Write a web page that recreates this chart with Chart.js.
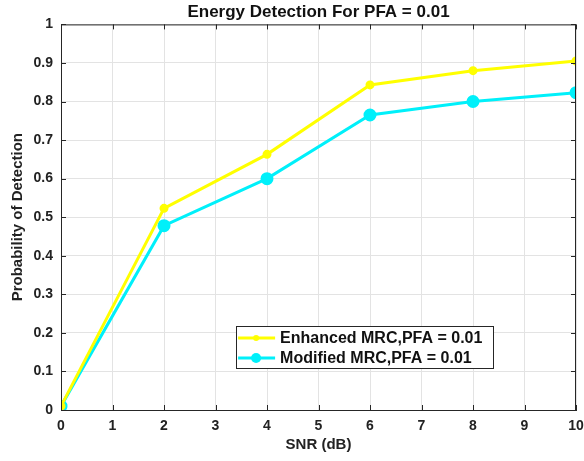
<!DOCTYPE html>
<html>
<head>
<meta charset="utf-8">
<script src="https://cdn.jsdelivr.net/npm/chart.js@4/dist/chart.umd.min.js"></script>
<style>
  body { margin: 0; background: #fff; }
  #wrap { width: 584px; height: 461px; }
</style>
</head>
<body>
<div id="wrap"><canvas id="myChart" width="584" height="461"></canvas></div>
<script>
// data
var snr = [0, 2, 4, 6, 8, 10];
var enhanced = [0.01, 0.523, 0.663, 0.843, 0.880, 0.905];
var modified = [0.01, 0.478, 0.600, 0.765, 0.800, 0.823];
var xTicks = [0, 1, 2, 3, 4, 5, 6, 7, 8, 9, 10];
var yTicks = [0, 0.1, 0.2, 0.3, 0.4, 0.5, 0.6, 0.7, 0.8, 0.9, 1];
var seriesNames = ['Enhanced MRC,PFA = 0.01', 'Modified MRC,PFA = 0.01'];

var FONT = '"Liberation Sans", Arial, Helvetica, sans-serif';
var AXIS = '#262626';

function pts(ys) {
  return snr.map(function (x, i) { return { x: x, y: ys[i] }; });
}

// box, inward ticks and legend like matlab
var boxPlugin = {
  id: 'box',
  afterDraw: function (chart) {
    var c = chart.ctx, a = chart.chartArea;
    var xs = chart.scales.x, ys = chart.scales.y;
    c.save();
    c.strokeStyle = AXIS;
    c.lineWidth = 1;
    c.strokeRect(a.left + 0.5, a.top + 0.5, a.right - a.left - 1, a.bottom - a.top);
    c.beginPath();
    xTicks.forEach(function (t) {
      var px = Math.round(xs.getPixelForValue(t)) + 0.5;
      c.moveTo(px, a.bottom); c.lineTo(px, a.bottom - 5);
      c.moveTo(px, a.top); c.lineTo(px, a.top + 5);
    });
    yTicks.forEach(function (t) {
      var py = Math.round(ys.getPixelForValue(t)) + 0.5;
      c.moveTo(a.left, py); c.lineTo(a.left + 5, py);
      c.moveTo(a.right, py); c.lineTo(a.right - 5, py);
    });
    c.stroke();

    // legend
    var w = a.right - a.left, h = a.bottom - a.top;
    var lx = a.left + 0.34 * w, rx = a.left + 0.839 * w;
    var ty = a.top + 0.782 * h, by = a.top + 0.891 * h;
    c.fillStyle = '#fff';
    c.fillRect(lx, ty, rx - lx, by - ty);
    c.strokeStyle = AXIS;
    c.strokeRect(Math.round(lx) + 0.5, Math.round(ty) + 0.5, Math.round(rx - lx), Math.round(by - ty));
    chart.data.datasets.forEach(function (ds, i) {
      var yy = ty + 12 + i * 20;
      c.strokeStyle = ds.borderColor;
      c.lineWidth = 3;
      c.beginPath();
      c.moveTo(lx + 2, yy); c.lineTo(lx + 39, yy);
      c.stroke();
      c.fillStyle = ds.pointBackgroundColor;
      c.beginPath();
      c.arc(lx + 20, yy, ds.pointRadius, 0, Math.PI * 2);
      c.fill();
      c.fillStyle = '#111';
      c.font = 'bold 16px ' + FONT;
      c.textBaseline = 'middle';
      c.textAlign = 'left';
      c.fillText(seriesNames[i], lx + 44, yy + 1);
    });
    c.restore();
  }
};

var ctx = document.getElementById('myChart').getContext('2d');
var chart = new Chart(ctx, {
  type: 'line',
  data: {
    datasets: [{
      label: seriesNames[0],
      data: pts(enhanced),
      borderColor: 'rgb(255,255,0)',
      backgroundColor: 'rgb(255,255,0)',
      pointBackgroundColor: 'rgb(255,255,0)',
      pointBorderColor: 'rgb(255,255,0)',
      pointRadius: 3,
      borderWidth: 3
    }, {
      label: seriesNames[1],
      data: pts(modified),
      borderColor: 'rgb(0,240,250)',
      backgroundColor: 'rgb(0,240,250)',
      pointBackgroundColor: 'rgb(0,240,250)',
      pointBorderColor: 'rgb(0,240,250)',
      pointRadius: 5,
      borderWidth: 3
    }]
  },
  options: {
    responsive: false,
    animation: false,
    layout: { padding: { left: 0, right: 0, top: 0, bottom: 0 } },
    plugins: {
      legend: { display: false },
      tooltip: { enabled: false },
      title: {
        display: true,
        text: 'Energy Detection For PFA = 0.01',
        fullSize: false,
        color: '#111',
        font: { family: FONT, size: 17, weight: 'bold' },
        padding: { top: 2, bottom: 2 }
      }
    },
    scales: {
      x: {
        type: 'linear',
        min: 0, max: 10,
        afterBuildTicks: function (s) { s.ticks = xTicks.map(function (v) { return { value: v }; }); },
        afterFit: function (s) { s.height = 51; s.paddingRight = 8; },
        grid: { color: '#e3e3e3', drawTicks: false },
        border: { color: AXIS },
        ticks: { color: '#222', padding: 8, font: { family: FONT, size: 14, weight: 'bold' },
          callback: function (v) { return String(v); } },
        title: {
          display: true, text: 'SNR (dB)', color: '#222',
          font: { family: FONT, size: 15, weight: 'bold' },
          padding: { top: 0, bottom: 7 }
        }
      },
      y: {
        min: 0, max: 1,
        afterBuildTicks: function (s) { s.ticks = yTicks.map(function (v) { return { value: v }; }); },
        afterFit: function (s) { s.width = 61; },
        grid: { color: '#e3e3e3', drawTicks: false },
        border: { color: AXIS },
        ticks: { color: '#222', padding: 8, font: { family: FONT, size: 14, weight: 'bold' },
          callback: function (v) { return String(v); } },
        title: {
          display: true, text: 'Probability of Detection', color: '#222',
          font: { family: FONT, size: 15, weight: 'bold' },
          padding: { top: 9, bottom: 0 }
        }
      }
    }
  },
  plugins: [boxPlugin]
});
</script>
</body>
</html>
